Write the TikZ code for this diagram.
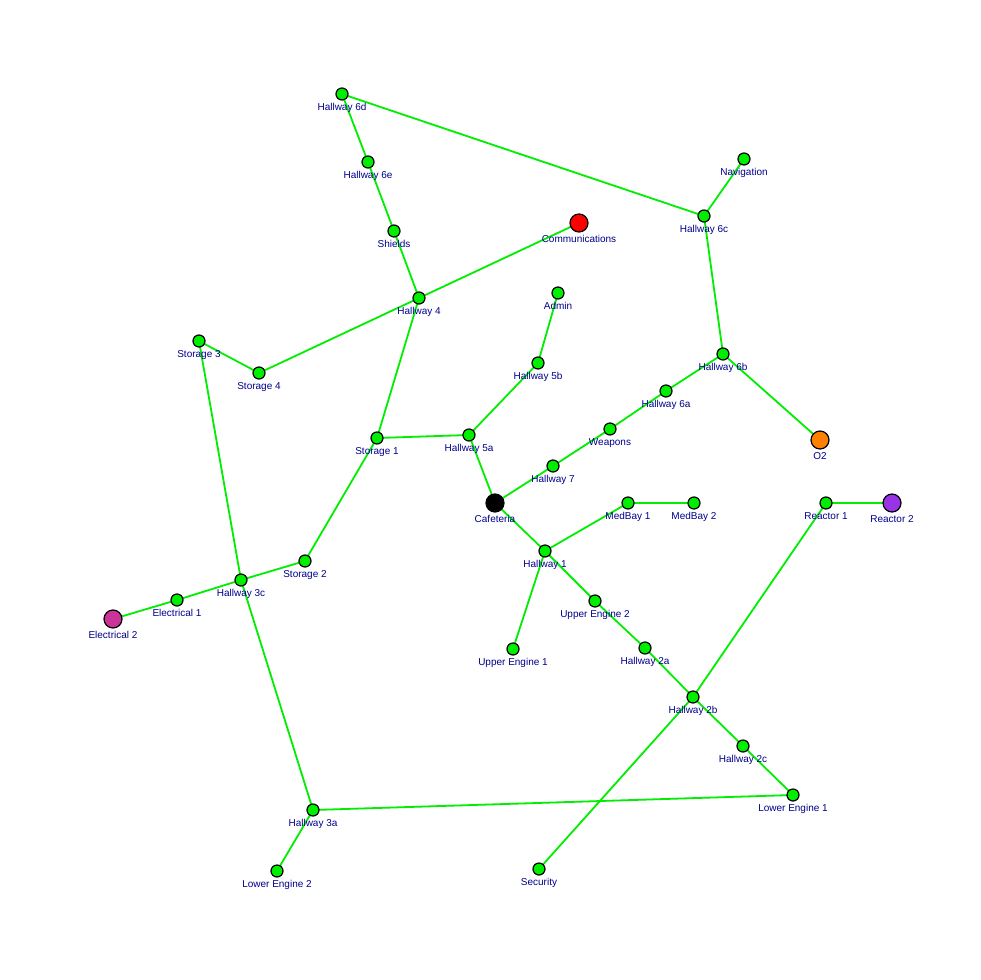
\documentclass[tikz,border=0pt]{standalone}
\usepackage{fontspec}
\setmainfont{Liberation Sans}
\definecolor{lab}{RGB}{0,0,139}
\definecolor{edge}{RGB}{0,238,0}
\definecolor{vg}{RGB}{0,238,0}
\begin{document}
\begin{tikzpicture}[x=1pt,y=-1pt,
  v/.style={circle,draw=black,line width=1.2pt,fill=vg,minimum size=12pt,inner sep=0pt,
    label={[text=lab,font=\fontsize{10}{12}\selectfont,yshift=1pt]below:#1}},
  big/.style={minimum size=18pt},
  e/.style={draw=edge,line width=1.8pt}]
\useasboundingbox (0,0) rectangle (980,980);
\fill[white] (0,0) rectangle (980,980);
\foreach \n/\x/\y/\t in {h6d/342/94/Hallway 6d, h6e/368/162/Hallway 6e, sh/394/231/Shields, h4/419/298/Hallway 4,
 nav/744/159/Navigation, h6c/704/216/Hallway 6c, h6b/723/354/Hallway 6b, h6a/666/391/Hallway 6a,
 wp/610/429/Weapons, h7/553/466/Hallway 7, ad/558/293/Admin, h5b/538/363/Hallway 5b, h5a/469/435/Hallway 5a,
 s1/377/438/Storage 1, s3/199/341/Storage 3, s4/259/373/Storage 4, s2/305/561/Storage 2, h3c/241/580/Hallway 3c,
 e1/177/600/Electrical 1, mb1/628/503/MedBay 1, mb2/694/503/MedBay 2, h1/545/551/Hallway 1,
 ue1/513/649/Upper Engine 1, ue2/595/601/Upper Engine 2, h2a/645/648/Hallway 2a, h2b/693/697/Hallway 2b,
 h2c/743/746/Hallway 2c, le1/793/795/Lower Engine 1, r1/826/503/Reactor 1, sec/539/869/Security,
 h3a/313/810/Hallway 3a, le2/277/871/Lower Engine 2}
  \coordinate (\n) at (\x,\y);
\foreach \n/\x/\y in {comm/579/223, o2/820/440, caf/495/503, e2/113/619, r2/892/503}
  \coordinate (\n) at (\x,\y);
\foreach \a/\b in {h6d/h6e,h6e/sh,sh/h4,h6d/h6c,nav/h6c,h6c/h6b,h6b/o2,h6b/h6a,h6a/wp,wp/h7,h7/caf,h4/comm,h4/s4,s4/s3,s3/h3c,h4/s1,s1/h5a,h5a/h5b,h5b/ad,h5a/caf,s1/s2,s2/h3c,h3c/e1,e1/e2,h3c/h3a,h3a/le2,h3a/le1,caf/h1,h1/mb1,mb1/mb2,h1/ue1,h1/ue2,ue2/h2a,h2a/h2b,h2b/h2c,h2c/le1,h2b/r1,r1/r2,h2b/sec}
  \draw[e] (\a) -- (\b);
\foreach \n/\t in {h6d/Hallway 6d, h6e/Hallway 6e, sh/Shields, h4/Hallway 4,
 nav/Navigation, h6c/Hallway 6c, h6b/Hallway 6b, h6a/Hallway 6a,
 wp/Weapons, h7/Hallway 7, ad/Admin, h5b/Hallway 5b, h5a/Hallway 5a,
 s1/Storage 1, s3/Storage 3, s4/Storage 4, s2/Storage 2, h3c/Hallway 3c,
 e1/Electrical 1, mb1/MedBay 1, mb2/MedBay 2, h1/Hallway 1,
 ue1/Upper Engine 1, ue2/Upper Engine 2, h2a/Hallway 2a, h2b/Hallway 2b,
 h2c/Hallway 2c, le1/Lower Engine 1, r1/Reactor 1, sec/Security,
 h3a/Hallway 3a, le2/Lower Engine 2}
  \node[v={\t}] (n\n) at (\n) {};
\node[v=Communications,big,fill=red] (ncomm) at (comm) {};
\node[v=O2,big,fill=orange] (no2) at (o2) {};
\node[v=Cafeteria,big,fill=black] (ncaf) at (caf) {};
\node[v=Electrical 2,big,fill={rgb,255:red,204;green,51;blue,153}] (ne2) at (e2) {};
\node[v=Reactor 2,big,fill={rgb,255:red,153;green,51;blue,230}] (nr2) at (r2) {};
\end{tikzpicture}
\end{document}
